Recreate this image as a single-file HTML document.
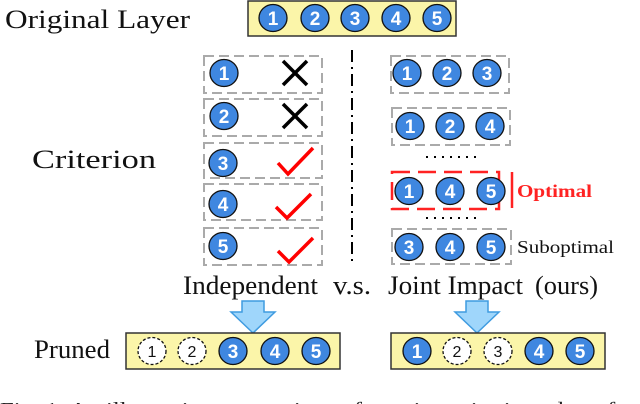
<!DOCTYPE html>
<html><head><style>body{margin:0;background:#fff}svg{display:block}</style></head><body>
<svg width="640" height="404" viewBox="0 0 640 404" xmlns="http://www.w3.org/2000/svg" font-family="Liberation Serif, serif">
<defs>
<g id="c"><ellipse rx="14" ry="13.5" fill="#3f87e0" stroke="#111" stroke-width="1.3"/></g>
</defs>
<style>.n{font-family:"Liberation Sans",sans-serif;font-weight:bold;font-size:19px;fill:#fff;text-anchor:middle}.d{font-family:"Liberation Sans",sans-serif;font-size:16px;fill:#111;text-anchor:middle}.t{font-size:26px;fill:#111}</style>
<text x="5" y="28" class="t" textLength="185" lengthAdjust="spacingAndGlyphs">Original Layer</text>
<rect x="248" y="1" width="208" height="35" fill="#fbf5a9" stroke="#333" stroke-width="1.5"/>
<g>
<use href="#c" x="273" y="18"/><text x="273" y="25" class="n">1</text>
<use href="#c" x="315" y="18"/><text x="315" y="25" class="n">2</text>
<use href="#c" x="355" y="18"/><text x="355" y="25" class="n">3</text>
<use href="#c" x="396" y="18"/><text x="396" y="25" class="n">4</text>
<use href="#c" x="437" y="18"/><text x="437" y="25" class="n">5</text>
</g>
<text x="32" y="168" class="t" textLength="124" lengthAdjust="spacingAndGlyphs">Criterion</text>
<g fill="none" stroke="#aaa" stroke-width="2" stroke-dasharray="10,5">
<rect x="204" y="56" width="118" height="37"/>
<rect x="204" y="99" width="118" height="37"/>
<rect x="204" y="143" width="118" height="35"/>
<rect x="204" y="184" width="118" height="36"/>
<rect x="204" y="228" width="118" height="37"/>
<rect x="392" y="229" width="119" height="35"/>
</g>
<use href="#c" x="224" y="73"/><text x="224" y="80" class="n">1</text>
<use href="#c" x="224" y="116"/><text x="224" y="123" class="n">2</text>
<use href="#c" x="223" y="163"/><text x="223" y="170" class="n">3</text>
<use href="#c" x="223" y="204"/><text x="223" y="211" class="n">4</text>
<use href="#c" x="223" y="246"/><text x="223" y="253" class="n">5</text>
<g stroke="#000" stroke-width="3.5">
<line x1="283" y1="61" x2="307" y2="85"/><line x1="307" y1="61" x2="283" y2="85"/>
<line x1="283" y1="104" x2="307" y2="128"/><line x1="307" y1="104" x2="283" y2="128"/>
</g>
<g stroke="#f00" stroke-width="3.5" fill="none">
<polyline points="278,163 288,174 313,148"/>
<polyline points="276,207 287,218 311,194"/>
<polyline points="278,251 289,262 313,238"/>
</g>
<line x1="352" y1="50" x2="352" y2="265" stroke="#000" stroke-width="2" stroke-dasharray="12,5,2,5"/>
<use href="#c" x="407" y="73"/><text x="407" y="80" class="n">1</text>
<use href="#c" x="447" y="73"/><text x="447" y="80" class="n">2</text>
<use href="#c" x="487" y="73"/><text x="487" y="80" class="n">3</text>
<g fill="none" stroke="#aaa" stroke-width="2" stroke-dasharray="10,5">
<rect x="391" y="56" width="118" height="37"/>
<rect x="392" y="108" width="118" height="37"/>
</g>
<use href="#c" x="410" y="126"/><text x="410" y="133" class="n">1</text>
<use href="#c" x="450" y="126"/><text x="450" y="133" class="n">2</text>
<use href="#c" x="490" y="126"/><text x="490" y="133" class="n">4</text>
<line x1="426" y1="157" x2="476" y2="157" stroke="#000" stroke-width="2" stroke-dasharray="2,6"/>
<rect x="392" y="172" width="107" height="37" fill="none" stroke="#f22" stroke-width="2.5" stroke-dasharray="18,8"/>
<line x1="512" y1="172" x2="512" y2="208" stroke="#f22" stroke-width="2.5"/>
<use href="#c" x="409" y="191"/><text x="409" y="198" class="n">1</text>
<use href="#c" x="450" y="191"/><text x="450" y="198" class="n">4</text>
<use href="#c" x="491" y="191"/><text x="491" y="198" class="n">5</text>
<text x="517" y="197" font-size="18" font-weight="bold" fill="#f22" textLength="75" lengthAdjust="spacingAndGlyphs">Optimal</text>
<line x1="426" y1="218" x2="476" y2="218" stroke="#000" stroke-width="2" stroke-dasharray="2,6"/>
<use href="#c" x="409" y="247"/><text x="409" y="254" class="n">3</text>
<use href="#c" x="450" y="247"/><text x="450" y="254" class="n">4</text>
<use href="#c" x="491" y="247"/><text x="491" y="254" class="n">5</text>
<text x="517" y="253" font-size="18" fill="#111" textLength="97" lengthAdjust="spacingAndGlyphs">Suboptimal</text>
<text x="183" y="294" class="t" textLength="135" lengthAdjust="spacingAndGlyphs">Independent</text>
<text x="333" y="294" class="t" textLength="38" lengthAdjust="spacingAndGlyphs">v.s.</text>
<text x="388" y="294" class="t" textLength="135" lengthAdjust="spacingAndGlyphs">Joint Impact</text>
<text x="535" y="294" class="t" textLength="63" lengthAdjust="spacingAndGlyphs">(ours)</text>
<polygon points="242,301 264,301 264,312 275,312 253,333 231,312 242,312" fill="#9fd6fb" stroke="#3f9be0" stroke-width="1.5"/>
<polygon points="466,301 488,301 488,312 499,312 477,333 455,312 466,312" fill="#9fd6fb" stroke="#3f9be0" stroke-width="1.5"/>
<text x="34" y="358" class="t" textLength="76" lengthAdjust="spacingAndGlyphs">Pruned</text>
<rect x="126" y="333" width="214" height="36" fill="#fbf5a9" stroke="#333" stroke-width="1.5"/>
<rect x="391" y="333" width="214" height="36" fill="#fbf5a9" stroke="#333" stroke-width="1.5"/>
<g fill="#fff" stroke="#111" stroke-width="1.3" stroke-dasharray="3,2">
<ellipse cx="152" cy="351" rx="14" ry="13.5"/><ellipse cx="192" cy="351" rx="14" ry="13.5"/>
<ellipse cx="457" cy="351" rx="14" ry="13.5"/><ellipse cx="498" cy="351" rx="14" ry="13.5"/>
</g>
<text x="152" y="357" class="d">1</text><text x="192" y="357" class="d">2</text>
<text x="457" y="357" class="d">2</text><text x="498" y="357" class="d">3</text>
<use href="#c" x="233" y="351"/><text x="233" y="358" class="n">3</text>
<use href="#c" x="275" y="351"/><text x="275" y="358" class="n">4</text>
<use href="#c" x="316" y="351"/><text x="316" y="358" class="n">5</text>
<use href="#c" x="417" y="351"/><text x="417" y="358" class="n">1</text>
<use href="#c" x="539" y="351"/><text x="539" y="358" class="n">4</text>
<use href="#c" x="580" y="351"/><text x="580" y="358" class="n">5</text>
<text x="0" y="416" font-size="20" fill="#222" textLength="640" lengthAdjust="spacingAndGlyphs">Fig. 1: An illustration comparison of pruning criteria and ... of ...</text>
</svg>
</body></html>
